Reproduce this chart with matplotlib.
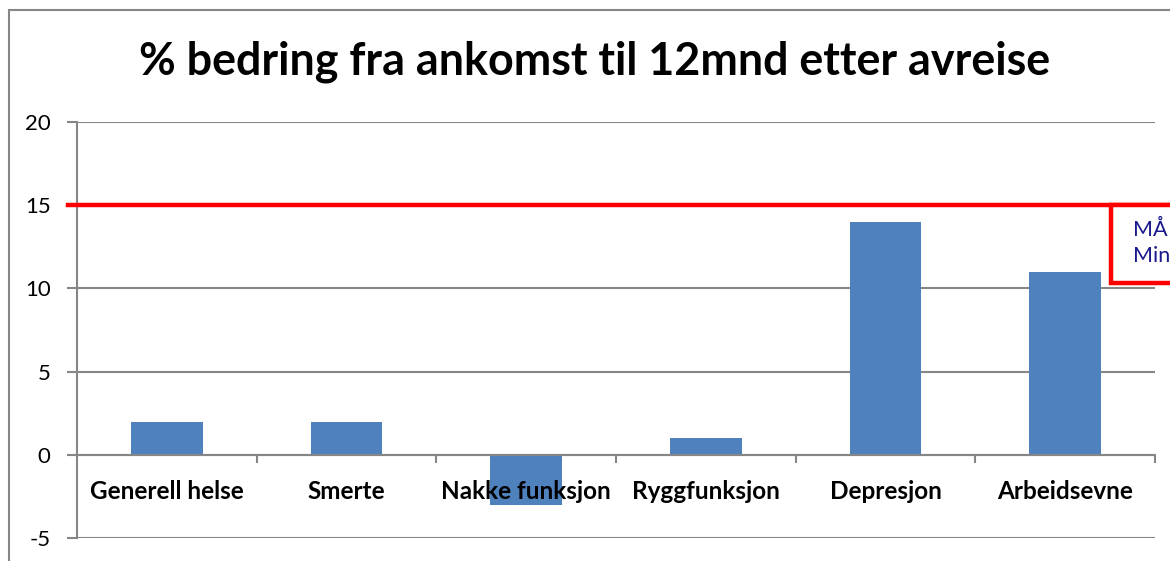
import matplotlib
matplotlib.use("Agg")
import matplotlib.pyplot as plt
from matplotlib.patches import Rectangle
from matplotlib.ticker import FixedLocator

categories = ["Generell helse", "Smerte", "Nakke funksjon", "Ryggfunksjon", "Depresjon", "Arbeidsevne"]
values = [2, 2, -3, 1, 14, 11]
y_ticks = [-5, 0, 5, 10, 15, 20]
threshold = 15
title = "% bedring fra ankomst til 12mnd etter avreise"
box_lines = ["MÅ", "Min"]

W, H = 1170, 561
plt.rcParams['font.family'] = ['Lato', 'DejaVu Sans']
fig = plt.figure(figsize=(W / 100, H / 100), dpi=100)
fig.patch.set_facecolor('white')

def fx(px):
    return px / W

def fy(py):
    return 1 - py / H

ax = fig.add_axes([fx(77), fy(538), fx(1155) - fx(77), fy(122) - fy(538)])
grey = '#868686'
bar_color = '#4F81BD'

x = list(range(len(categories)))
ax.bar(x, values, width=0.4, color=bar_color, zorder=2)
ax.set_xlim(-0.5, len(categories) - 0.5)
ax.set_ylim(min(y_ticks), max(y_ticks))
ax.set_axisbelow(False)

for s in ['top', 'right']:
    ax.spines[s].set_visible(False)
ax.spines['bottom'].set_position(('data', 0))
ax.spines['bottom'].set_color(grey)
ax.spines['bottom'].set_linewidth(1.5)
ax.spines['left'].set_color(grey)
ax.spines['left'].set_linewidth(1.5)

# horizontal gridlines behind bars
for t in y_ticks:
    ax.axhline(t, color=grey, linewidth=1.5, zorder=1)

ax.set_yticks(y_ticks)
ax.set_yticklabels([str(t) for t in y_ticks], fontsize=16)
ax.tick_params(axis='y', length=7, width=1.5, color=grey, pad=12)

ax.set_xticks(x)
ax.set_xticklabels(categories, fontsize=17.5, fontweight='bold')
ax.xaxis.set_minor_locator(FixedLocator([i + 0.5 for i in x]))
ax.tick_params(axis='x', which='major', length=0, pad=18)
ax.tick_params(axis='x', which='minor', length=6, width=1.5, color=grey, direction='out')

# threshold line
ax.axhline(threshold, xmin=-9 / 1078, xmax=(1175 - 77) / 1078, color='red',
           linewidth=3.2, clip_on=False, zorder=5)

# annotation box (cut off by figure edge)
fig.patches.append(Rectangle((fx(1111), fy(283)), fx(1300) - fx(1111), fy(205) - fy(283),
                             transform=fig.transFigure, facecolor='white', edgecolor='red',
                             linewidth=3.2, zorder=6))
fig.text(fx(1133), fy(230), box_lines[0], fontsize=15.5, color='#1A1A8C', va='center', ha='left', zorder=7)
fig.text(fx(1133), fy(256), box_lines[1], fontsize=15.5, color='#1A1A8C', va='center', ha='left', zorder=7)

# chart area border
fig.patches.append(Rectangle((fx(9), fy(700)), fx(1300) - fx(9), fy(10) - fy(700),
                             transform=fig.transFigure, facecolor='none', edgecolor=grey,
                             linewidth=1.5, zorder=1))

fig.text(fx(595), fy(62), title, fontsize=32.3, fontweight='bold', ha='center', va='center')

fig.savefig('out.png', dpi=100)
